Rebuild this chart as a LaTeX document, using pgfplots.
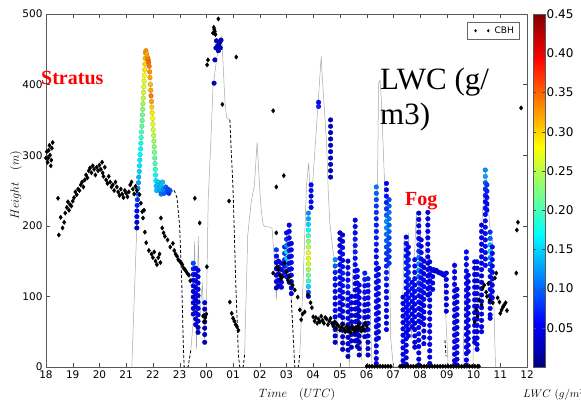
\documentclass[border=0pt]{standalone}
\usepackage{pgfplots}
\usepackage{pgfplotstable}
\pgfplotsset{compat=1.18}
\usepackage{fontspec}
\setmainfont{DejaVu Sans}
\newfontfamily\seriffont{Liberation Serif}

\pgfplotstableread[row sep=\\]{
h v c\\
21.40 197 .03\\21.40 205 .04\\21.40 213 .05\\21.40 221 .06\\21.41 229 .07\\21.42 237 .08\\21.43 245 .10\\21.44 253 .12\\
21.46 261 .13\\21.47 269 .14\\21.49 277 .15\\21.50 285 .16\\21.51 293 .16\\21.52 301 .17\\21.54 309 .17\\21.55 317 .18\\21.56 325 .19\\21.57 333 .20\\
21.59 341 .21\\21.60 349 .21\\21.61 357 .22\\21.62 365 .23\\21.63 373 .24\\21.64 381 .25\\21.65 389 .26\\21.66 397 .27\\21.67 405 .27\\21.68 413 .28\\
21.69 421 .29\\21.70 429 .30\\21.71 437 .31\\21.72 445 .32\\21.74 448 .33\\21.76 444 .32\\21.78 440 .31\\21.80 438 .32\\21.82 436 .34\\21.84 432 .35\\
21.86 426 .34\\21.88 418 .33\\21.89 410 .32\\21.91 400 .31\\21.92 392 .32\\21.93 384 .34\\21.95 376 .32\\21.96 368 .30\\21.97 360 .29\\21.99 352 .28\\
22.00 344 .27\\22.01 336 .26\\22.03 328 .25\\22.04 320 .24\\22.05 312 .23\\22.06 304 .22\\22.07 296 .21\\22.08 288 .20\\22.09 280 .19\\22.10 272 .17\\
22.11 264 .16\\22.12 256 .15\\
22.14 250 .14\\22.17 258 .15\\22.20 262 .15\\22.23 258 .14\\22.26 250 .13\\22.29 255 .14\\22.31 245 .11\\22.33 260 .15\\22.36 262 .14\\22.39 252 .12\\
22.42 246 .10\\22.45 250 .12\\22.48 255 .10\\22.52 248 .10\\22.56 252 .09\\22.60 246 .08\\22.64 250 .09\\
23.51 147 .09\\23.51 139 .07\\23.51 131 .06\\23.51 123 .05\\23.51 115 .05\\23.51 107 .05\\23.51 99 .04\\23.51 91 .05\\23.51 83 .04\\23.51 75 .04\\
23.60 140 .06\\23.60 131 .05\\23.60 122 .05\\23.60 113 .04\\23.60 104 .05\\23.60 95 .04\\23.60 86 .04\\23.60 77 .05\\23.60 68 .04\\23.60 60 .04\\
23.69 137 .05\\23.69 128 .05\\23.69 119 .04\\23.69 110 .05\\23.69 101 .04\\23.69 92 .04\\23.69 83 .05\\23.69 74 .04\\23.69 65 .04\\23.69 56 .03\\23.69 49 .03\\
23.94 91 .04\\23.94 82 .03\\23.94 73 .03\\23.94 64 .03\\23.94 55 .03\\23.94 46 .03\\23.94 35 .03\\
24.29 402 .03\\24.32 435 .03\\24.36 452 .03\\24.38 462 .03\\24.42 455 .03\\24.45 448 .03\\24.50 460 .03\\24.55 463 .03\\24.52 452 .03\\24.47 456 .03\\
26.62 166 .08\\26.62 157 .06\\26.62 148 .05\\26.62 139 .05\\26.62 130 .05\\26.62 121 .05\\26.62 112 .04\\
26.70 150 .05\\26.70 141 .04\\26.70 132 .04\\26.70 123 .05\\26.70 115 .04\\
26.81 147 .04\\26.81 138 .04\\26.81 129 .05\\26.81 120 .04\\26.81 113 .04\\
26.93 170 .07\\26.93 161 .08\\26.93 152 .07\\26.93 143 .06\\26.93 134 .06\\
27.00 190 .06\\27.00 181 .08\\27.00 172 .12\\27.00 163 .16\\27.00 154 .15\\27.00 145 .10\\27.00 136 .07\\27.00 128 .06\\
27.10 201 .05\\27.10 192 .05\\27.10 183 .06\\27.10 174 .06\\27.10 165 .07\\27.10 156 .06\\27.10 147 .06\\27.10 138 .05\\27.10 129 .05\\27.10 120 .05\\
27.18 175 .05\\27.18 166 .05\\27.18 157 .06\\27.18 148 .06\\27.18 139 .05\\27.18 130 .05\\27.18 121 .04\\27.18 112 .04\\27.18 104 .04\\
27.82 218 .12\\27.82 210 .13\\27.82 202 .15\\27.82 194 .17\\27.82 186 .20\\27.82 178 .23\\27.82 170 .25\\27.82 162 .27\\27.82 154 .27\\27.82 146 .26\\
27.82 138 .24\\27.82 130 .22\\27.82 122 .19\\27.82 114 .15\\27.82 106 .09\\27.82 100 .05\\
27.92 258 .06\\27.92 250 .06\\27.92 242 .05\\27.92 234 .06\\27.92 226 .05\\
28.20 375 .06\\28.20 369 .07\\
28.65 350 .03\\28.65 341 .03\\28.65 332 .03\\28.65 323 .03\\28.65 314 .03\\28.65 305 .03\\28.65 296 .03\\28.65 287 .03\\28.65 278 .03\\28.65 269 .03\\
28.82 152 .12\\28.82 143 .10\\28.82 134 .07\\28.82 125 .06\\28.82 116 .06\\28.82 107 .06\\28.82 98 .05\\28.82 89 .05\\28.82 80 .06\\28.82 71 .05\\
28.82 62 .05\\28.82 53 .05\\28.82 44 .04\\28.82 35 .04\\
29.00 190 .03\\29.00 181 .03\\29.00 172 .04\\29.00 163 .05\\29.00 154 .05\\29.00 145 .06\\29.00 136 .05\\29.00 127 .06\\29.00 118 .05\\29.00 109 .06\\
29.00 100 .05\\29.00 91 .05\\29.00 82 .05\\29.00 73 .05\\
29.10 187 .04\\29.10 178 .05\\29.10 169 .06\\29.10 160 .06\\29.10 151 .05\\29.10 142 .06\\29.10 133 .07\\29.10 124 .06\\29.10 115 .06\\29.10 106 .06\\
29.10 97 .05\\29.10 88 .05\\29.10 79 .05\\29.10 70 .05\\29.10 61 .05\\29.10 52 .04\\29.10 43 .04\\29.10 34 .04\\29.10 25 .03\\
29.30 150 .05\\29.30 141 .05\\29.30 132 .06\\29.30 123 .06\\29.30 114 .07\\29.30 105 .06\\29.30 96 .06\\29.30 87 .05\\29.30 78 .05\\29.30 69 .05\\
29.30 60 .05\\29.30 51 .05\\29.30 42 .04\\29.30 33 .04\\29.30 24 .04\\29.30 15 .03\\
29.43 100 .05\\29.43 91 .05\\29.43 82 .05\\29.43 73 .04\\29.43 64 .04\\29.43 55 .04\\29.43 46 .04\\29.43 37 .04\\29.43 28 .03\\
29.57 208 .05\\29.57 199 .06\\29.57 190 .06\\29.57 181 .07\\29.57 172 .07\\29.57 163 .07\\29.57 154 .06\\29.57 145 .06\\29.57 136 .06\\29.57 127 .05\\
29.57 118 .05\\29.57 109 .05\\29.57 100 .05\\29.57 91 .05\\29.57 82 .05\\29.57 73 .05\\29.57 64 .05\\29.57 55 .04\\29.57 46 .04\\29.57 37 .04\\
29.65 137 .06\\29.65 128 .06\\29.65 119 .05\\29.65 110 .05\\29.65 101 .05\\29.65 92 .05\\29.65 83 .05\\29.65 74 .04\\29.65 65 .04\\29.65 56 .04\\
29.65 47 .04\\29.65 38 .04\\29.65 29 .03\\
29.72 116 .05\\29.72 107 .05\\29.72 98 .05\\29.72 89 .05\\29.72 80 .04\\29.72 71 .04\\29.72 62 .04\\29.72 53 .04\\29.72 44 .04\\29.72 35 .03\\
29.72 26 .03\\29.72 17 .03\\
29.93 133 .07\\29.93 124 .07\\29.93 115 .06\\29.93 106 .06\\29.93 97 .06\\29.93 88 .05\\29.93 79 .05\\29.93 70 .05\\29.93 61 .05\\29.93 52 .05\\29.93 43 .04\\
30.05 125 .07\\30.05 116 .06\\30.05 107 .06\\30.05 98 .06\\30.05 89 .05\\30.05 80 .05\\30.05 71 .05\\30.05 62 .05\\30.05 53 .04\\30.05 44 .04\\
30.05 35 .04\\30.05 26 .04\\30.05 17 .04\\
30.36 255 .11\\30.36 246 .10\\30.36 237 .09\\30.36 228 .08\\30.36 219 .08\\30.36 210 .07\\30.36 201 .07\\30.36 192 .07\\30.36 183 .07\\30.36 174 .07\\
30.36 165 .06\\30.36 156 .06\\30.36 147 .06\\30.36 138 .06\\30.36 129 .06\\30.36 120 .06\\30.36 111 .06\\30.36 102 .06\\30.36 93 .06\\30.36 84 .06\\
30.36 75 .06\\30.36 66 .06\\30.36 57 .05\\30.36 48 .05\\30.36 39 .05\\30.36 30 .05\\30.36 21 .05\\30.36 12 .05\\30.36 5 .05\\
30.44 140 .06\\30.44 131 .06\\30.44 122 .06\\30.44 113 .06\\30.44 104 .06\\30.44 95 .05\\30.44 86 .05\\30.44 77 .05\\30.44 68 .05\\30.44 59 .05\\
30.44 50 .05\\30.44 41 .05\\
30.74 260 .05\\30.74 251 .05\\30.74 242 .06\\30.74 233 .07\\30.74 224 .08\\30.74 215 .10\\30.74 206 .12\\30.74 197 .12\\30.74 188 .11\\30.74 179 .10\\
30.74 170 .09\\30.74 161 .08\\30.74 152 .07\\30.74 143 .07\\30.74 134 .07\\30.74 125 .07\\30.74 116 .06\\30.74 107 .06\\30.74 98 .06\\30.74 89 .06\\
30.74 80 .06\\30.74 71 .05\\30.74 62 .05\\30.74 53 .05\\
30.84 237 .09\\30.84 228 .10\\30.84 219 .11\\30.84 210 .11\\30.84 201 .10\\30.84 192 .10\\30.84 183 .09\\30.84 174 .09\\30.84 165 .08\\30.84 156 .08\\30.84 147 .08\\
31.36 99 .05\\31.36 90 .05\\31.36 81 .05\\31.36 72 .05\\31.36 63 .05\\31.36 54 .05\\31.36 45 .05\\31.36 36 .05\\31.36 27 .05\\31.36 18 .05\\31.36 9 .05\\31.36 2 .05\\
31.48 184 .05\\31.48 175 .06\\31.48 166 .06\\31.48 157 .06\\31.48 148 .07\\31.48 139 .07\\31.48 130 .07\\31.48 121 .06\\31.48 112 .06\\31.48 103 .06\\
31.48 94 .06\\31.48 85 .06\\31.48 76 .06\\31.48 67 .06\\31.48 58 .06\\31.48 49 .05\\31.48 40 .05\\31.48 31 .05\\31.48 22 .05\\31.48 13 .05\\31.48 4 .05\\
31.56 170 .06\\31.56 161 .06\\31.56 152 .07\\31.56 143 .07\\31.56 134 .07\\31.56 125 .07\\31.56 116 .07\\31.56 107 .06\\31.56 98 .06\\31.56 89 .06\\
31.56 80 .06\\31.56 71 .06\\31.56 62 .06\\31.56 53 .05\\31.56 44 .05\\
31.70 120 .06\\31.70 111 .06\\31.70 102 .06\\31.70 93 .05\\31.70 84 .05\\31.70 75 .05\\31.70 66 .05\\31.70 57 .05\\
31.80 152 .06\\31.80 143 .06\\31.80 134 .06\\31.80 125 .06\\31.80 116 .06\\31.80 107 .06\\31.80 98 .06\\31.80 89 .05\\31.80 80 .05\\31.80 71 .05\\
31.80 62 .05\\31.80 53 .05\\31.80 44 .05\\31.80 35 .05\\31.80 28 .05\\
31.95 218 .04\\31.95 209 .05\\31.95 200 .05\\31.95 191 .06\\31.95 182 .06\\31.95 173 .07\\31.95 164 .08\\31.95 155 .11\\31.95 146 .12\\31.95 137 .12\\
31.95 128 .10\\31.95 119 .08\\31.95 110 .07\\31.95 101 .06\\31.95 92 .06\\31.95 83 .06\\31.95 74 .06\\31.95 65 .06\\31.95 56 .06\\31.95 47 .06\\
31.95 38 .05\\31.95 29 .05\\31.95 20 .05\\31.95 11 .05\\31.95 3 .05\\
32.04 180 .05\\32.04 171 .05\\32.04 162 .06\\32.04 153 .06\\32.04 144 .06\\32.04 135 .06\\32.04 126 .06\\32.04 117 .06\\32.04 108 .06\\32.04 99 .05\\
32.04 90 .05\\32.04 81 .05\\32.04 72 .05\\32.04 63 .05\\
32.14 150 .05\\32.14 141 .05\\32.14 132 .05\\32.14 123 .06\\32.14 114 .06\\32.14 105 .06\\32.14 96 .05\\32.14 87 .05\\32.14 78 .05\\32.14 69 .05\\
32.14 60 .05\\32.14 51 .05\\32.14 42 .05\\32.14 33 .05\\
32.29 219 .04\\32.29 210 .05\\32.29 201 .05\\32.29 192 .05\\32.29 183 .05\\32.29 174 .05\\32.29 165 .05\\32.29 156 .05\\32.29 147 .05\\32.29 138 .05\\
32.29 129 .05\\32.29 120 .05\\32.29 111 .05\\32.29 102 .05\\
32.36 149 .05\\32.36 140 .05\\32.36 131 .05\\32.36 122 .05\\32.36 113 .05\\32.36 104 .05\\32.36 95 .05\\32.36 86 .05\\32.36 77 .05\\32.36 68 .05\\
32.36 59 .05\\32.36 50 .05\\32.36 41 .05\\32.36 32 .05\\32.36 23 .05\\32.36 14 .05\\32.36 5 .05\\
32.45 137 .05\\32.50 138 .05\\32.55 136 .05\\32.60 137 .05\\32.65 135 .05\\32.70 134 .05\\32.75 133 .05\\32.80 133 .05\\32.85 131 .05\\32.90 130 .05\\
32.47 128 .05\\32.47 119 .05\\32.47 110 .05\\
32.98 133 .05\\32.98 124 .05\\32.98 115 .05\\32.98 106 .05\\32.98 97 .05\\32.98 88 .05\\32.98 79 .05\\
33.29 144 .05\\33.29 135 .05\\33.29 126 .05\\33.29 117 .05\\33.29 108 .05\\33.29 99 .05\\33.29 90 .05\\33.29 81 .05\\33.29 72 .05\\33.29 63 .05\\
33.29 54 .05\\33.29 45 .05\\33.29 36 .05\\33.29 27 .05\\33.29 18 .05\\33.29 9 .05\\33.29 3 .05\\
33.38 110 .05\\33.38 101 .05\\33.38 92 .05\\33.38 83 .05\\33.38 74 .05\\33.38 65 .05\\33.38 56 .05\\33.38 47 .05\\33.38 38 .05\\33.38 29 .05\\
33.38 20 .05\\33.38 11 .05\\33.38 3 .05\\
33.73 163 .06\\33.73 154 .06\\33.73 145 .06\\33.73 136 .06\\33.73 127 .06\\33.73 118 .06\\33.73 109 .06\\33.73 100 .06\\33.73 91 .06\\33.73 82 .05\\
33.73 73 .05\\33.73 64 .05\\33.73 55 .05\\33.73 46 .05\\33.73 37 .05\\33.73 28 .05\\33.73 19 .05\\33.73 10 .05\\33.73 3 .05\\
33.80 130 .05\\33.80 121 .05\\33.80 112 .05\\33.80 103 .05\\33.80 94 .05\\33.80 85 .05\\33.80 76 .05\\33.80 67 .05\\33.80 58 .05\\33.80 49 .05\\
33.80 40 .05\\33.80 31 .05\\33.80 22 .05\\
34.04 149 .05\\34.04 140 .05\\34.04 131 .05\\34.04 122 .05\\34.04 113 .05\\34.04 104 .05\\34.04 95 .05\\34.04 86 .05\\34.04 77 .05\\34.04 68 .05\\
34.04 59 .05\\34.04 50 .05\\34.04 41 .05\\34.04 35 .05\\
34.13 149 .05\\34.13 140 .05\\34.13 131 .05\\34.13 122 .05\\34.13 113 .05\\34.13 104 .05\\34.13 95 .05\\34.13 86 .05\\34.13 77 .05\\34.13 68 .05\\
34.13 59 .05\\34.13 50 .05\\34.13 41 .05\\34.13 32 .05\\34.13 25 .05\\
34.30 201 .05\\34.30 192 .05\\34.30 183 .05\\34.30 174 .05\\34.30 165 .05\\34.30 156 .05\\34.30 147 .05\\34.30 138 .05\\34.30 129 .05\\34.30 120 .05\\
34.30 111 .05\\34.30 102 .05\\34.30 93 .05\\34.30 84 .05\\34.30 75 .05\\34.30 66 .05\\34.30 57 .05\\34.30 50 .05\\
34.44 279 .12\\34.44 270 .13\\34.44 261 .10\\34.44 252 .08\\34.44 243 .07\\34.44 234 .06\\34.44 225 .06\\34.44 216 .06\\34.44 207 .06\\34.44 198 .06\\
34.44 189 .06\\34.44 180 .06\\34.44 171 .06\\34.44 162 .06\\34.44 153 .06\\34.44 144 .06\\
34.50 258 .08\\34.50 249 .07\\34.50 240 .06\\34.50 231 .06\\34.50 222 .06\\
34.62 191 .08\\34.62 182 .10\\34.62 173 .14\\34.62 164 .15\\34.62 155 .12\\34.62 146 .09\\34.62 137 .07\\34.62 128 .06\\34.62 119 .06\\34.62 110 .06\\
34.62 101 .06\\34.62 92 .05\\34.62 83 .05\\34.62 74 .05\\34.62 69 .05\\
34.70 170 .06\\34.70 161 .06\\34.70 152 .06\\34.70 143 .06\\34.70 134 .06\\34.70 125 .06\\34.70 116 .05\\34.70 107 .05\\34.70 98 .05\\
}\lwc

\pgfplotstableread[row sep=\\]{
h v\\
18.00 296\\18.03 305\\18.06 290\\18.08 296\\18.10 307\\18.13 314\\18.15 300\\18.18 285\\18.20 293\\18.22 310\\18.25 318\\
18.45 239\\18.48 187\\18.55 212\\18.62 197\\18.68 205\\18.72 218\\18.78 226\\18.82 234\\18.86 222\\18.90 230\\18.95 228\\
19.00 235\\19.05 240\\19.10 248\\19.15 244\\19.20 252\\19.25 250\\19.30 258\\19.35 262\\19.40 255\\19.45 265\\19.50 272\\19.55 268\\
19.60 278\\19.65 282\\19.70 275\\19.75 285\\19.80 280\\19.85 272\\19.90 283\\19.95 278\\20.00 286\\20.05 280\\20.10 290\\20.12 275\\
20.15 270\\20.20 283\\20.25 265\\20.30 260\\20.35 270\\20.40 262\\20.45 255\\20.50 258\\20.55 250\\20.60 262\\20.65 255\\20.70 248\\
20.75 243\\20.80 252\\20.85 245\\20.90 240\\20.95 250\\21.00 246\\21.05 241\\21.10 248\\21.15 258\\21.20 262\\21.25 252\\21.30 245\\
21.35 256\\21.40 250\\21.50 244\\21.55 232\\21.60 220\\21.63 211\\21.67 222\\21.70 191\\21.75 176\\21.85 165\\21.95 160\\22.00 155\\
22.05 163\\22.10 150\\22.15 145\\22.20 155\\22.25 160\\22.28 148\\22.30 211\\22.35 197\\22.40 190\\22.45 185\\22.55 180\\22.65 170\\
22.75 175\\22.80 165\\22.85 160\\22.90 157\\22.95 152\\23.00 150\\23.05 148\\23.10 145\\23.15 140\\23.20 138\\23.25 135\\23.30 132\\
23.35 130\\23.40 122\\23.57 239\\23.75 204\\24.02 142\\23.88 72\\23.92 64\\23.96 70\\24.00 75\\
24.03 428\\24.06 435\\24.25 473\\24.28 481\\24.30 478\\24.32 475\\24.34 471\\24.45 493\\24.60 372\\25.12 439\\26.50 363\\26.90 271\\
26.62 255\\24.85 235\\24.88 92\\24.95 76\\25.00 69\\25.05 65\\25.10 60\\25.15 57\\25.20 52\\
26.62 190\\26.50 133\\26.65 142\\26.70 138\\26.75 130\\26.80 125\\26.85 128\\26.93 147\\27.00 135\\27.05 123\\27.10 128\\27.15 120\\
27.23 116\\27.31 109\\27.42 99\\27.50 81\\27.55 67\\27.60 75\\27.68 78\\27.80 102\\27.90 91\\27.95 84\\28.00 71\\28.05 65\\28.10 70\\
28.15 62\\28.20 68\\28.25 64\\28.30 72\\28.35 66\\28.40 62\\28.45 70\\28.50 68\\28.55 60\\28.60 65\\28.65 69\\28.70 62\\28.75 58\\
28.80 64\\28.85 55\\28.90 60\\28.95 58\\29.00 52\\29.05 56\\29.10 60\\29.15 54\\29.20 50\\29.25 57\\29.30 52\\29.35 55\\29.40 49\\
29.45 58\\29.50 53\\29.55 50\\29.60 56\\29.65 52\\29.70 60\\29.75 55\\29.80 51\\29.85 57\\29.90 53\\29.95 62\\30.00 58\\
30.00 1\\30.10 1\\30.20 1\\30.30 1\\30.40 1\\30.50 1\\30.60 1\\30.70 1\\30.80 1\\30.90 1\\31.25 1\\31.35 1\\31.45 1\\31.55 1\\
31.65 1\\31.75 1\\31.85 1\\31.95 1\\32.05 1\\32.15 1\\32.25 1\\32.35 1\\32.45 1\\32.55 1\\32.65 1\\32.75 1\\32.85 1\\32.95 1\\
33.05 1\\33.15 1\\33.25 1\\33.35 1\\33.45 1\\33.55 1\\33.65 1\\33.75 1\\33.85 1\\33.95 1\\34.05 1\\34.15 1\\34.20 1\\
34.04 64\\34.10 81\\34.15 72\\34.22 95\\34.30 88\\34.34 112\\34.40 116\\34.47 106\\34.50 100\\34.55 118\\34.60 95\\34.72 91\\
34.80 126\\34.85 133\\34.90 98\\34.97 92\\35.00 76\\35.05 81\\35.10 85\\35.15 88\\35.20 91\\35.25 80\\35.60 133\\35.62 194\\
35.66 205\\35.78 367\\
}\cbh

\begin{document}
\begin{tikzpicture}
\begin{axis}[
  scale only axis, width=481pt, height=353pt,
  at={(0pt,0pt)}, anchor=south west,
  xmin=18, xmax=36, ymin=0, ymax=500,
  xtick={18,19,...,36},
  xticklabels={18,19,20,21,22,23,00,01,02,03,04,05,06,07,08,09,10,11,12},
  ytick={0,100,200,300,400,500},
  tick align=inside, major tick length=4pt,
  tick style={black!70},
  axis line style={black!65},
  ticklabel style={font=\fontsize{10.5}{12}\selectfont},
  /pgf/number format/assume math mode=true,
  colormap/jet,
  point meta min=0, point meta max=0.45,
  colorbar,
  colorbar style={
    at={(parent axis.north east)}, anchor=north west, xshift=-2.5pt,
    scale only axis, width=12pt,
    ytick={0.05,0.10,0.15,0.20,0.25,0.30,0.35,0.40,0.45},
    yticklabel style={font=\fontsize{12}{14}\selectfont, inner xsep=1.5pt,
      /pgf/number format/fixed, /pgf/number format/fixed zerofill,
      /pgf/number format/precision=2},
    /pgf/number format/assume math mode=true,
    major tick length=3pt, tick style={black!70},
    axis line style={black!65},
  },
  legend style={at={(1,1)}, anchor=north east, xshift=-8pt, yshift=-8pt,
    font=\fontsize{9}{10}\selectfont, draw=black!60, inner xsep=3pt, inner ysep=2.5pt},
  legend cell align=left,
]
% gray line
\addplot[gray!70, line width=0.5pt, forget plot] table[row sep=\\] {
21.21 0\\21.40 200\\21.48 260\\21.55 300\\21.63 380\\21.73 447\\21.78 440\\21.85 435\\21.93 384\\22.05 312\\22.12 256\\22.20 260\\
22.30 252\\22.40 248\\22.50 250\\22.60 246\\22.70 248\\22.80 250\\};
\addplot[gray!70, line width=0.5pt, forget plot] table[row sep=\\] {
23.42 24\\23.50 60\\23.56 178\\23.63 25\\23.70 185\\23.76 70\\23.85 120\\23.93 40\\24.00 75\\24.07 237\\24.18 330\\24.25 397\\
24.40 440\\24.55 466\\24.58 468\\24.65 411\\24.70 374\\24.76 353\\24.88 350\\};
\addplot[gray!70, line width=0.5pt, forget plot] table[row sep=\\] {
25.43 17\\25.55 187\\25.68 234\\25.80 258\\25.90 319\\26.00 251\\26.06 220\\26.13 201\\26.20 199\\26.40 198\\26.46 196\\26.55 150\\
26.62 95\\26.70 160\\26.78 110\\26.88 150\\26.95 130\\27.00 190\\27.05 120\\27.10 200\\27.18 95\\};
\addplot[gray!70, line width=0.5pt, forget plot] table[row sep=\\] {
27.50 20\\27.62 120\\27.75 258\\27.83 289\\27.88 250\\27.95 245\\28.05 300\\28.30 440\\28.33 416\\28.50 317\\28.56 251\\28.62 205\\
28.72 170\\28.80 150\\28.90 30\\29.02 190\\29.12 20\\29.28 150\\29.35 0\\29.45 100\\29.55 210\\29.62 30\\29.70 115\\29.80 10\\
29.90 130\\30.00 20\\30.10 120\\30.20 0\\30.32 0\\30.45 402\\30.50 406\\30.55 378\\30.68 251\\30.75 150\\30.82 237\\30.90 40\\
31.00 0\\31.30 0\\31.40 184\\31.50 130\\31.57 190\\31.68 40\\31.78 150\\31.86 220\\31.95 100\\32.00 218\\32.08 60\\32.18 150\\
32.29 220\\32.35 30\\32.45 140\\32.90 130\\32.95 80\\33.05 0\\33.22 0\\33.28 150\\33.35 0\\33.60 0\\33.72 165\\33.80 0\\33.98 0\\
34.03 150\\34.12 30\\34.20 100\\34.30 200\\34.45 280\\34.52 250\\34.60 200\\34.70 180\\34.78 60\\34.82 0\\};
% dashed line
\addplot[black, line width=0.8pt, dash pattern=on 3pt off 2pt, forget plot] table[row sep=\\] {
22.80 250\\22.90 240\\23.00 200\\23.08 120\\23.14 30\\23.17 0\\23.32 0\\23.42 24\\};
\addplot[black, line width=0.8pt, dash pattern=on 3pt off 2pt, forget plot] table[row sep=\\] {
24.88 350\\25.00 251\\25.10 120\\25.20 17\\25.25 0\\25.38 0\\25.43 17\\};
\addplot[black, line width=0.8pt, dash pattern=on 3pt off 2pt, forget plot] table[row sep=\\] {
27.18 95\\27.31 0\\27.45 0\\27.50 20\\};
\addplot[black, line width=0.8pt, dash pattern=on 3pt off 2pt, forget plot] table[row sep=\\] {
32.93 38\\32.97 15\\};
% LWC scatter
\addplot[scatter, only marks, mark=*, mark size=2.3pt, scatter src=explicit, forget plot]
  table[x=h, y=v, meta=c] {\lwc};
% CBH
\addplot[only marks, mark=diamond*, mark size=2.2pt, black, forget plot]
  table[x=h, y=v] {\cbh};
\addlegendimage{legend image code/.code={
  \path[draw=none, fill=none] (-0.05cm,0cm) -- (0.75cm,0cm);
  \fill[black, draw=none] (0.15cm,0.06cm) -- (0.195cm,0cm) -- (0.15cm,-0.06cm) -- (0.105cm,0cm) -- cycle;
  \fill[black, draw=none] (0.6cm,0.06cm) -- (0.645cm,0cm) -- (0.6cm,-0.06cm) -- (0.555cm,0cm) -- cycle;}}
\addlegendentry{CBH}
\end{axis}
% texts
\node[anchor=base west, text=red, font=\seriffont\bfseries\fontsize{20}{24}\selectfont, inner sep=0pt] at (-5pt,282pt) {Stratus};
\node[anchor=base west, text=red, font=\seriffont\bfseries\fontsize{20}{24}\selectfont, inner sep=0pt] at (359pt,161pt) {Fog};
\node[anchor=base west, font=\seriffont\fontsize{31}{35}\selectfont, inner sep=0pt] at (334pt,277pt) {LWC (g/};
\node[anchor=base west, font=\seriffont\fontsize{31}{35}\selectfont, inner sep=0pt] at (334pt,242pt) {m3)};
\node[anchor=base, rotate=90, font=\fontsize{12}{14}\selectfont, inner sep=0pt] at (-27pt,182pt) {$Height\quad(m)$};
\node[anchor=base, font=\fontsize{12}{14}\selectfont, inner sep=0pt] at (251pt,-31pt) {$Time\quad(UTC)$};
\node[anchor=base west, font=\fontsize{11}{13}\selectfont, inner sep=0pt] at (477pt,-31pt) {$LWC\ (g/m^3)$};
\pgfresetboundingbox
\path[use as bounding box] (-46pt,-37pt) rectangle (535pt,367pt);
\end{tikzpicture}
\end{document}
